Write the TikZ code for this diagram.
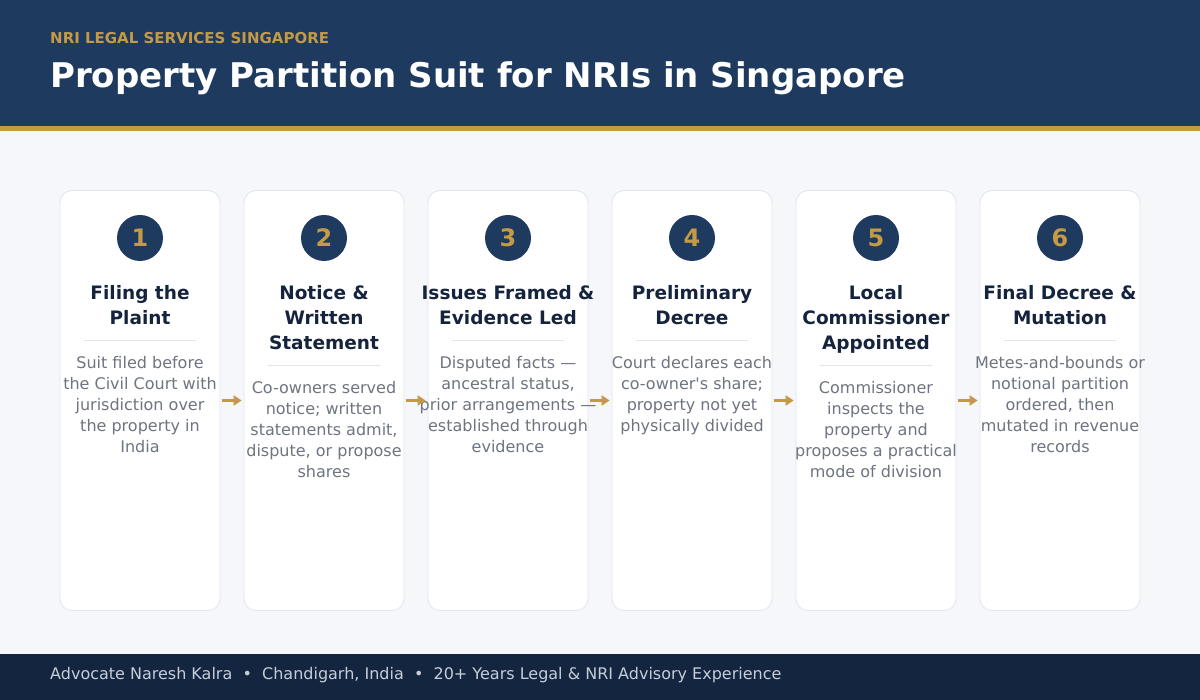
\documentclass[tikz,border=0pt]{standalone}
\usepackage{fontspec}
\setmainfont{DejaVu Sans}
\usetikzlibrary{positioning,arrows.meta}

\definecolor{navy}{HTML}{1F3A5F}
\definecolor{navydark}{HTML}{14263F}
\definecolor{gold}{HTML}{C49A45}
\definecolor{paper}{HTML}{F5F7FA}
\definecolor{cardline}{HTML}{E1E5EC}
\definecolor{ink}{HTML}{15233D}
\definecolor{muted}{HTML}{6E7480}
\definecolor{footink}{HTML}{C5CDD9}

\begin{document}
\begin{tikzpicture}
        [
            x = 1pt, y = -1pt,
            card/.style = {draw = cardline, fill = white, rounded corners = 12pt,
                minimum width = 160pt, minimum height = 420pt, line width = 0.8pt},
            badge/.style = {circle, fill = navy, minimum size = 46pt, inner sep = 0pt,
                text = gold, font = \fontsize{24}{24}\selectfont\bfseries},
            steptitle/.style = {align = center, text = ink, inner sep = 0pt, anchor = base,
                font = \fontsize{18.5}{25}\selectfont\bfseries},
            stepdesc/.style = {align = center, text = muted, inner sep = 0pt, anchor = base,
                font = \fontsize{16}{21}\selectfont},
            rule/.style = {draw = cardline, line width = 0.8pt},
            flow/.style = {draw = gold, line width = 2.5pt, shorten < = 2pt, shorten > = 2pt,
                -{Triangle[length = 8pt, width = 10pt]}}
        ]

        \useasboundingbox (0,0) rectangle (1200,700);
        \fill[paper] (0,0) rectangle (1200,700);

        % header and footer bands
        \fill[navy] (0,0) rectangle (1200,126);
        \fill[gold] (0,126) rectangle (1200,131);
        \fill[navydark] (0,654) rectangle (1200,700);

        \node[anchor = base west, inner sep = 0pt, text = gold,
            font = \fontsize{15}{15}\selectfont\bfseries] (kicker) at (50,44)
            {NRI LEGAL SERVICES SINGAPORE};
        \node[anchor = base west, inner sep = 0pt, text = white,
            font = \fontsize{34}{34}\selectfont\bfseries] (heading) at (50,88)
            {Property Partition Suit for NRIs in Singapore};
        \node[anchor = base west, inner sep = 0pt, text = footink,
            font = \fontsize{16}{16}\selectfont] (credit) at (50,679)
            {Advocate Naresh Kalra \ \textbullet\ \ Chandigarh, India \ \textbullet\ \ 20+ Years Legal \& NRI Advisory Experience};

        % the six steps (base anchor sits on the last line)
        \foreach \i/\nl/\nd/\ttl/\desc in {
            1/2/5/{Filing the\\Plaint}/{Suit filed before\\the Civil Court with\\jurisdiction over\\the property in\\India},
            2/3/5/{Notice \&\\Written\\Statement}/{Co-owners served\\notice; written\\statements admit,\\dispute, or propose\\shares},
            3/2/5/{Issues Framed \&\\Evidence Led}/{Disputed facts ---\\ancestral status,\\prior arrangements ---\\established through\\evidence},
            4/2/4/{Preliminary\\Decree}/{Court declares each\\co-owner\textquotesingle s share;\\property not yet\\physically divided},
            5/3/5/{Local\\Commissioner\\Appointed}/{Commissioner\\inspects the\\property and\\proposes a practical\\mode of division},
            6/2/5/{Final Decree \&\\Mutation}/{Metes-and-bounds or\\notional partition\\ordered, then\\mutated in revenue\\records}}
        {
            \pgfmathsetmacro{\cx}{140 + (\i - 1) * 184}
            \pgfmathsetmacro{\ty}{300 + (\nl - 1) * 25}
            \pgfmathsetmacro{\dy}{\ty + 15}
            \pgfmathsetmacro{\by}{\dy + 29 + (\nd - 1) * 21}
            \node[card] (card\i) at (\cx,400.5) {};
            \node[badge] (num\i) at (\cx,238) {\i};
            \node[steptitle] (title\i) at (\cx,\ty) {\ttl};
            \draw[rule] (\cx - 56,\dy) -- (\cx + 56,\dy);
            \node[stepdesc] (desc\i) at (\cx,\by) {\desc};
        }

        \foreach \i [evaluate = \i as \j using int(\i + 1)] in {1,...,5}
            \draw[flow] (card\i) -- (card\j);
    \end{tikzpicture}
\end{document}
